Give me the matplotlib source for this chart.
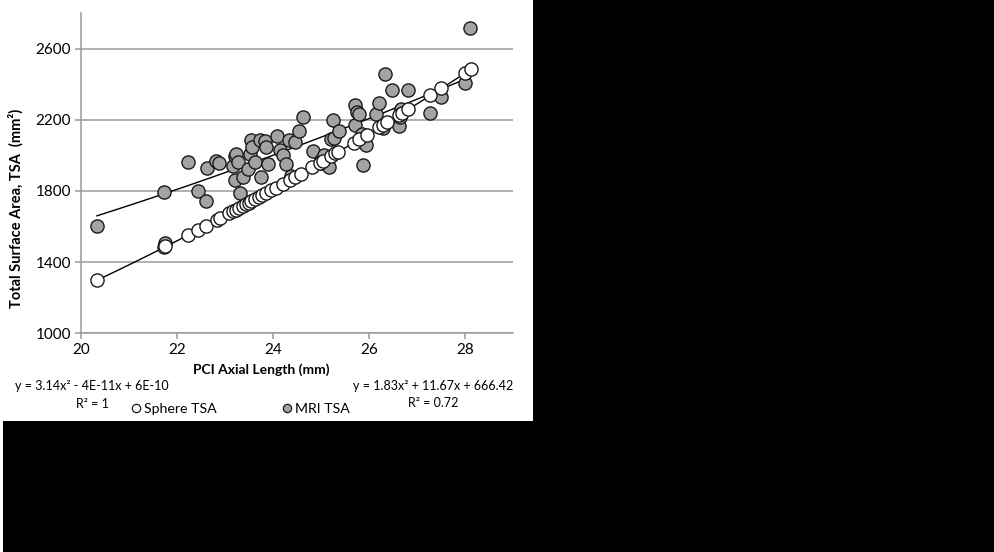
import numpy as np
import matplotlib
matplotlib.use("Agg")
import matplotlib.pyplot as plt
from matplotlib.lines import Line2D
from matplotlib.patches import Rectangle

plt.rcParams['font.family'] = ['Lato', 'DejaVu Sans']

###############################
# Data
# Sphere TSA (open circles)
sphere_x = [20.33, 21.73, 21.76, 22.22, 22.44, 22.60, 22.83, 22.90, 23.09, 23.16,
            23.23, 23.30, 23.38, 23.44, 23.50, 23.54, 23.62, 23.70, 23.78, 23.85,
            23.96, 24.06, 24.20, 24.36, 24.45, 24.58, 24.82, 24.97, 25.05, 25.20,
            25.30, 25.36, 25.68, 25.80, 25.96, 26.20, 26.30, 26.38, 26.62, 26.68,
            26.82, 27.28, 27.50, 28.00, 28.12]
sphere_y = [1298, 1483, 1488, 1551, 1582, 1605, 1637, 1648, 1675, 1685,
            1695, 1706, 1717, 1726, 1735, 1741, 1753, 1765, 1777, 1787,
            1804, 1819, 1840, 1864, 1878, 1898, 1935, 1959, 1971, 1995,
            2011, 2020, 2072, 2091, 2117, 2157, 2173, 2186, 2226, 2236,
            2260, 2338, 2376, 2463, 2484]

# MRI TSA (grey circles)
mri_x = [20.33, 21.73, 21.76, 22.22, 22.44, 22.60, 22.62, 22.82, 22.88, 23.16,
         23.20, 23.23, 23.21, 23.28, 23.31, 23.38, 23.47, 23.52, 23.54, 23.57,
         23.63, 23.75, 23.73, 23.84, 23.85, 23.89, 24.08, 24.15, 24.20, 24.28,
         24.33, 24.45, 24.38, 24.54, 24.63, 24.83, 24.99, 25.06, 25.00, 25.16,
         25.25, 25.20, 25.28, 25.37, 25.71, 25.71, 25.76, 25.80, 25.85, 25.87,
         25.94, 26.15, 26.20, 26.29, 26.34, 26.47, 26.63, 26.65, 26.67, 26.82,
         27.28, 27.50, 27.99, 28.10]
mri_y = [1605, 1795, 1505, 1960, 1802, 1745, 1931, 1970, 1956, 1942,
         1996, 2007, 1862, 1960, 1788, 1880, 1921, 2006, 2084, 2048,
         1963, 1876, 2084, 2080, 2047, 1952, 2110, 2032, 2002, 1950,
         2088, 2075, 1882, 2137, 2218, 2022, 1972, 2004, 1957, 1935,
         2198, 2092, 2100, 2137, 2281, 2170, 2245, 2232, 2118, 1948,
         2056, 2230, 2297, 2155, 2457, 2365, 2165, 2215, 2262, 2365,
         2240, 2327, 2406, 2715]

# polynomial trendline coefficients as printed on the chart
sphere_coef = [3.14, -4e-11, 6e-10]
mri_coef = [1.83, 11.67, 666.42]

x_ticks = [20, 22, 24, 26, 28]
y_ticks = [1000, 1400, 1800, 2200, 2600]
###############################

W, H = 995, 552
fig = plt.figure(figsize=(W / 100, H / 100), dpi=100, facecolor='black')

# white panel holding the chart, the rest of the page is black
fig.patches.append(Rectangle((0, 1 - 421 / H), 533 / W, 421 / H,
                             transform=fig.transFigure, facecolor='white',
                             edgecolor='none', zorder=-5))
fig.patches.append(Rectangle((0, 0), 3 / W, 1, transform=fig.transFigure,
                             facecolor='white', edgecolor='none', zorder=-5))

ax = fig.add_axes([81 / W, 1 - 333.3 / H, 432 / W, 320.3 / H])
ax.set_zorder(2)
ax.set_facecolor('white')

grid_col = '#9a9a9a'
ax.set_xlim(20, 29)
ax.set_ylim(1000, 2800)
ax.set_xticks(x_ticks)
ax.set_yticks(y_ticks)
ax.yaxis.grid(True, color=grid_col, lw=1.1)
ax.set_axisbelow(True)
for s in ['top', 'right']:
    ax.spines[s].set_visible(False)
for s in ['left', 'bottom']:
    ax.spines[s].set_color(grid_col)
    ax.spines[s].set_linewidth(1.1)
ax.tick_params(colors=grid_col, length=4, width=1.1, labelcolor='black',
               labelsize=11, pad=3)

# trendlines
xs = np.linspace(min(sphere_x), max(sphere_x), 100)
ax.plot(xs, np.polyval(sphere_coef, xs), color='black', lw=1, zorder=2)
xm = np.linspace(min(mri_x), max(mri_x), 100)
ax.plot(xm, np.polyval(mri_coef, xm), color='black', lw=1, zorder=2)

ax.scatter(mri_x, mri_y, s=90, facecolor='#a3a3a3', edgecolor='#1a1a1a',
           linewidth=1, zorder=3)
ax.scatter(sphere_x, sphere_y, s=90, facecolor='white', edgecolor='#1a1a1a',
           linewidth=1, zorder=4)

ax.set_xlabel('PCI Axial Length (mm)', fontsize=10, fontweight='bold')
ax.xaxis.set_label_coords(0.417, -0.095)
ax.set_ylabel('Total Surface Area, TSA  (mm²)', fontsize=10.5, fontweight='bold')
ax.yaxis.set_label_coords(-0.132, 0.391)

# trendline equations
eq_fs = 9
fig.text(92 / W, 1 - 386 / H, 'y = 3.14x² - 4E-11x + 6E-10', fontsize=eq_fs,
         ha='center', va='center')
fig.text(92 / W, 1 - 404 / H, 'R² = 1', fontsize=eq_fs, ha='center', va='center')
fig.text(433 / W, 1 - 386 / H, 'y = 1.83x² + 11.67x + 666.42', fontsize=eq_fs,
         ha='center', va='center')
fig.text(433 / W, 1 - 403 / H, 'R² = 0.72', fontsize=eq_fs, ha='center', va='center')

handles = [Line2D([], [], ls='', marker='o', ms=6, mfc='white', mec='#1a1a1a',
                  mew=0.9, label='Sphere TSA'),
           Line2D([], [], ls='', marker='o', ms=6, mfc='#a3a3a3', mec='#1a1a1a',
                  mew=0.9, label='MRI TSA')]
fig.legend(handles=handles, ncol=2, loc='center', frameon=False,
           bbox_to_anchor=(239.5 / W, 1 - 409 / H), fontsize=10.2,
           handletextpad=0.05, columnspacing=4.45, handlelength=1.0,
           borderpad=0, borderaxespad=0)

fig.savefig('out.png', dpi=100, facecolor='black')
